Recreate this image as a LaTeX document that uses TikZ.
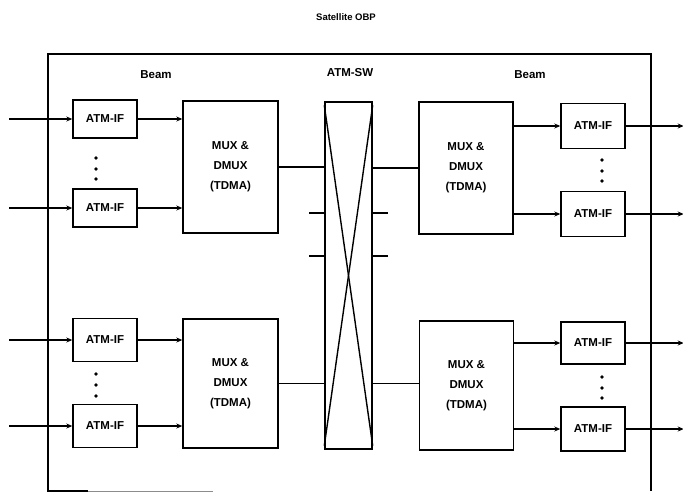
\documentclass[tikz,border=0pt]{standalone}
\usepackage{fontspec}
\setmainfont{Liberation Sans}
\usetikzlibrary{arrows.meta}
\begin{document}
\begin{tikzpicture}[x=1pt,y=-1pt,
  line width=1.4pt,
  box/.style={draw,line width=1.4pt,inner sep=0pt,font=\bfseries\fontsize{11.5}{14}\selectfont},
  ifbox/.style={box,minimum width=64pt},
  muxbox/.style={box,minimum width=95pt,align=center,font=\bfseries\fontsize{11.5}{20}\selectfont},
  lbl/.style={inner sep=0pt,font=\bfseries\fontsize{11.5}{14}\selectfont},
  arr/.style={-{Stealth[length=6pt,width=5pt]},line width=1.1pt},
  conn/.style={line width=1.1pt},
  dotc/.style={fill=black,draw=none,circle,inner sep=0pt,minimum size=3.8pt}
]
\useasboundingbox (0,0) rectangle (683,496);

% outer frame
\draw[line width=1.4pt] (88,491) -- (48,491) -- (48,54) -- (651,54) -- (651,491);
\draw[line width=0.5pt,black!45] (88,491) -- (213,491);

% labels
\node[inner sep=0pt,font=\bfseries\fontsize{9.5}{12}\selectfont] (title) at (346,17) {Satellite OBP};
\node[lbl] (beamL) at (156,75) {Beam};
\node[lbl] (atmsw) at (350,73) {ATM-SW};
\node[lbl] (beamR) at (530,75) {Beam};

% left ATM-IF
\node[ifbox,minimum height=38pt] (L1) at (105,119) {ATM-IF};
\node[ifbox,minimum height=38pt] (L2) at (105,208) {ATM-IF};
\node[ifbox,minimum height=43pt] (L3) at (105,340) {ATM-IF};
\node[ifbox,minimum height=43pt] (L4) at (105,426) {ATM-IF};

% left MUX
\node[muxbox,minimum height=132pt] (ML1) at (230.5,167) {MUX \&\\DMUX\\(TDMA)};
\node[muxbox,minimum height=129pt] (ML2) at (230.5,383.5) {MUX \&\\DMUX\\(TDMA)};

% switch
\node[box,minimum width=47pt,minimum height=347pt] (SW) at (348.5,275.5) {};
\draw[line width=1.4pt] ([yshift=-4pt]SW.north west) -- ([yshift=4pt]SW.south east);
\draw[line width=1.4pt] ([yshift=-4pt]SW.north east) -- ([yshift=4pt]SW.south west);

% right MUX
\node[muxbox,minimum height=132pt,minimum width=94pt] (MR1) at (466,168) {MUX \&\\DMUX\\(TDMA)};
\node[muxbox,minimum height=129pt,minimum width=94pt] (MR2) at (466.5,385.5) {MUX \&\\DMUX\\(TDMA)};

% right ATM-IF
\node[ifbox,minimum height=45pt] (R1) at (593,126) {ATM-IF};
\node[ifbox,minimum height=45pt] (R2) at (593,214) {ATM-IF};
\node[ifbox,minimum height=42pt] (R3) at (593,343) {ATM-IF};
\node[ifbox,minimum height=44pt] (R4) at (593,429) {ATM-IF};

% dots
\foreach \y [count=\i] in {158,169,179} \node[dotc] (dA\i) at (96,\y) {};
\foreach \y [count=\i] in {374,385,396} \node[dotc] (dB\i) at (96,\y) {};
\foreach \y [count=\i] in {160,171,181} \node[dotc] (dC\i) at (602,\y) {};
\foreach \y [count=\i] in {377,388,398} \node[dotc] (dD\i) at (602,\y) {};

% inputs
\foreach \i in {1,...,4} {
  \coordinate (in\i) at ([xshift=-63pt]L\i.west);
  \draw[arr] (in\i) -- (L\i.west);
}

% ATM-IF -> MUX (left)
\draw[arr] (L1.east) -- (L1.east -| ML1.west);
\draw[arr] (L2.east) -- (L2.east -| ML1.west);
\draw[arr] (L3.east) -- (L3.east -| ML2.west);
\draw[arr] (L4.east) -- (L4.east -| ML2.west);

% MUX <-> switch
\draw[conn] (ML1.east) -- (ML1.east -| SW.west);
\draw[conn] (ML2.east) -- (ML2.east -| SW.west);
\draw[conn] (MR1.west) -- (MR1.west -| SW.east);
\draw[conn] (MR2.west |- ML2.east) -- (ML2.east -| SW.east);

% stubs
\coordinate (sl1) at (309,213);
\coordinate (sl2) at (309,256);
\coordinate (sr1) at (388,213);
\coordinate (sr2) at (388,256);
\draw[conn] (sl1) -- (sl1 -| SW.west);
\draw[conn] (sl2) -- (sl2 -| SW.west);
\draw[conn] (sr1) -- (sr1 -| SW.east);
\draw[conn] (sr2) -- (sr2 -| SW.east);

% MUX -> ATM-IF (right)
\draw[arr] (R1.west -| MR1.east) -- (R1.west);
\draw[arr] (R2.west -| MR1.east) -- (R2.west);
\draw[arr] (R3.west -| MR2.east) -- (R3.west);
\draw[arr] (R4.west -| MR2.east) -- (R4.west);

% outputs
\foreach \i in {1,...,4} {
  \coordinate (out\i) at ([xshift=58pt]R\i.east);
  \draw[arr] (R\i.east) -- (out\i);
}
\end{tikzpicture}
\end{document}
